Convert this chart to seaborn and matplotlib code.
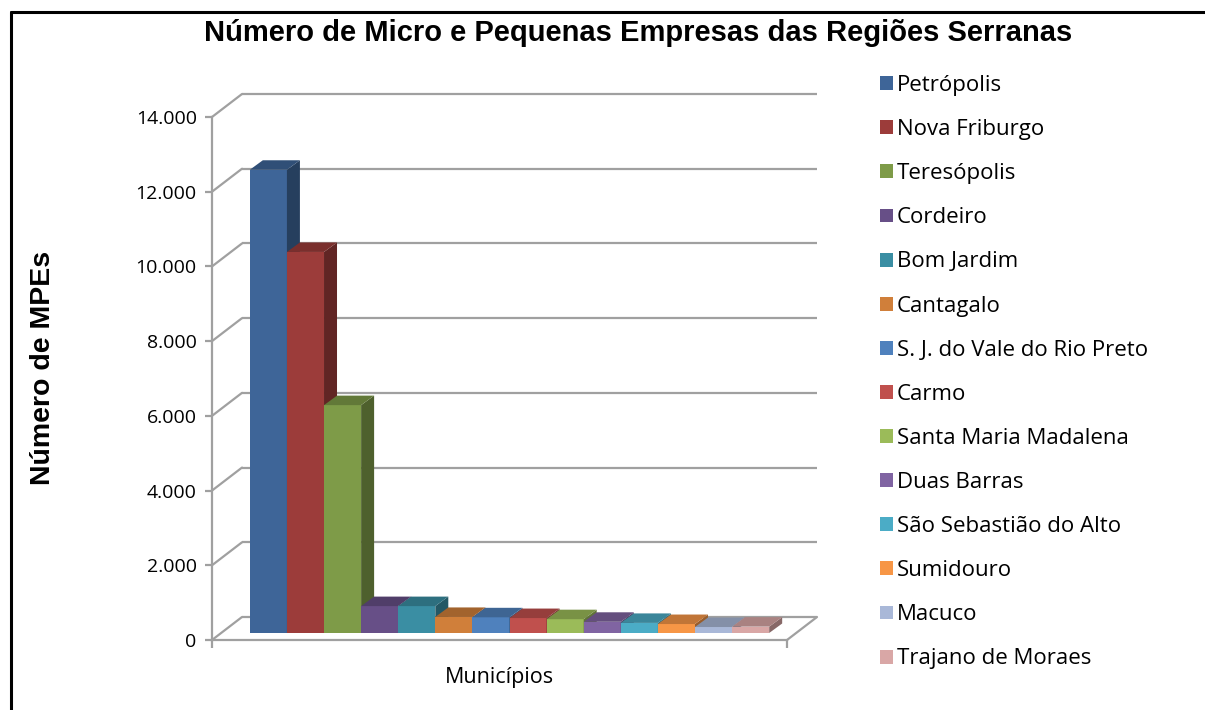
import matplotlib
matplotlib.use('Agg')
import matplotlib.pyplot as plt
import matplotlib.patches as mpatches
import matplotlib.colors as mcolors
from matplotlib.lines import Line2D
import pandas as pd
import seaborn as sns

# ---- data ----
municipios = ['Petrópolis', 'Nova Friburgo', 'Teresópolis', 'Cordeiro', 'Bom Jardim',
              'Cantagalo', 'S. J. do Vale do Rio Preto', 'Carmo', 'Santa Maria Madalena',
              'Duas Barras', 'São Sebastião do Alto', 'Sumidouro', 'Macuco', 'Trajano de Moraes']
empresas = [12400, 10200, 6100, 720, 720, 430, 420, 400, 370, 300, 270, 240, 160, 170]
cores = ['#3E6598', '#9C3C3A', '#7E9B48', '#674F87', '#3A8EA3', '#D07F3A', '#4F81BD',
         '#C0504D', '#9BBB59', '#8064A2', '#4BACC6', '#F79646', '#A9B8D8', '#D9A7A6']
yticks = [0, 2000, 4000, 6000, 8000, 10000, 12000, 14000]
ytick_labels = ['0', '2.000', '4.000', '6.000', '8.000', '10.000', '12.000', '14.000']

sns.set_theme(style='white')
plt.rcParams['font.family'] = ['Open Sans', 'DejaVu Sans']
plt.rcParams['text.color'] = 'black'

W, H = 1205, 710
GRAY = '#A0A0A0'
fig = plt.figure(figsize=(W / 100, H / 100), dpi=100)
fig.patch.set_facecolor('white')

# front plane of the 3D box, in pixels
ax = fig.add_axes([212 / W, (H - 640) / H, 575 / W, 523 / H])
ax.set_facecolor('none')

df = pd.DataFrame({'Municipio': municipios, 'MPEs': empresas})
sns.barplot(data=df, x='Municipio', y='MPEs', hue='Municipio', palette=cores,
            width=1.0, saturation=1, legend=False, ax=ax)
xmin, xmax = -1.25, len(municipios) + 0.25
ax.set_xlim(xmin, xmax)
ax.set_ylim(0, 14000)

# pixel -> data unit conversion
px_x = 575 / (xmax - xmin)
px_y = 523 / 14000
def off(dx_px, dy_px):
    return dx_px / px_x, dy_px / px_y

DX, DY = off(30, 23)      # full depth of the box
FX, FY = off(10, 7)       # bar front face offset
BX, BY = off(13, 9.5)     # bar depth

# back wall gridlines and diagonals
for v in yticks:
    ax.plot([xmin + DX, xmax + DX], [v + DY, v + DY], color=GRAY, lw=1.6,
            clip_on=False, zorder=1, solid_capstyle='butt')
    ax.plot([xmin, xmin + DX], [v, v + DY], color=GRAY, lw=1.6, clip_on=False, zorder=1)
ax.plot([xmax, xmax + DX], [0, DY], color=GRAY, lw=1.6, clip_on=False, zorder=1)

# 3D faces on the bars
for i, p in enumerate(ax.patches):
    x0, w, h = p.get_x(), p.get_width(), p.get_height()
    c = mcolors.to_rgb(p.get_facecolor())
    top_c = tuple(k * 0.78 for k in c)
    side_c = tuple(k * 0.62 for k in c)
    xf, yf = x0 + FX, FY
    p.set_x(xf)
    p.set_y(yf)
    p.set_edgecolor('none')
    p.set_zorder(3 + 3 * i)
    p.set_clip_on(False)
    side = mpatches.Polygon([(xf + w, yf), (xf + w + BX, yf + BY),
                             (xf + w + BX, yf + h + BY), (xf + w, yf + h)],
                            closed=True, facecolor=side_c, edgecolor='none',
                            zorder=3 + 3 * i + 1, clip_on=False)
    top = mpatches.Polygon([(xf, yf + h), (xf + w, yf + h),
                            (xf + w + BX, yf + h + BY), (xf + BX, yf + h + BY)],
                           closed=True, facecolor=top_c, edgecolor='none',
                           zorder=3 + 3 * i + 1, clip_on=False)
    ax.add_patch(side)
    ax.add_patch(top)

# axes styling
for s in ['top', 'right']:
    ax.spines[s].set_visible(False)
for s in ['left', 'bottom']:
    ax.spines[s].set_color(GRAY)
    ax.spines[s].set_linewidth(1.6)
    ax.spines[s].set_zorder(2)
ax.set_yticks(yticks)
ax.set_yticklabels(ytick_labels, fontsize=14, color='black')
ax.set_xticks([xmin, xmax])
ax.set_xticklabels(['', ''])
ax.tick_params(axis='y', direction='out', length=5, width=1.6, color=GRAY, pad=6, left=True)
ax.tick_params(axis='x', direction='out', length=6, width=1.6, color=GRAY, bottom=True)
ax.set_xlabel('Municípios', fontsize=15.5, color='black', labelpad=10)
ax.set_ylabel('')

# titles
fig.text(638 / W, (H - 33) / H, 'Número de Micro e Pequenas Empresas das Regiões Serranas',
         ha='center', va='center', fontsize=21, fontweight='bold', color='black',
         family=['Liberation Sans', 'DejaVu Sans'])
fig.text(43 / W, (H - 368) / H, 'Número de MPEs', rotation=90, ha='center', va='center',
         fontsize=20.5, fontweight='bold', color='black',
         family=['Liberation Sans', 'DejaVu Sans'])

# legend
handles = [mpatches.Patch(facecolor=c, edgecolor='none') for c in cores]
fig.legend(handles, municipios, loc='upper left', bbox_to_anchor=(880 / W, (H - 75) / H),
           frameon=False, fontsize=16, handlelength=0.58, handleheight=0.58,
           handletextpad=0.18, labelspacing=1.04, borderaxespad=0, borderpad=0,
           labelcolor='black')

# outer frame (top and left edges visible)
fig.add_artist(Line2D([11 / W, 1.0], [(H - 12) / H, (H - 12) / H], color='black', lw=2.2))
fig.add_artist(Line2D([11 / W, 11 / W], [0, (H - 12) / H], color='black', lw=2.2))

fig.savefig('out.png', dpi=100)
